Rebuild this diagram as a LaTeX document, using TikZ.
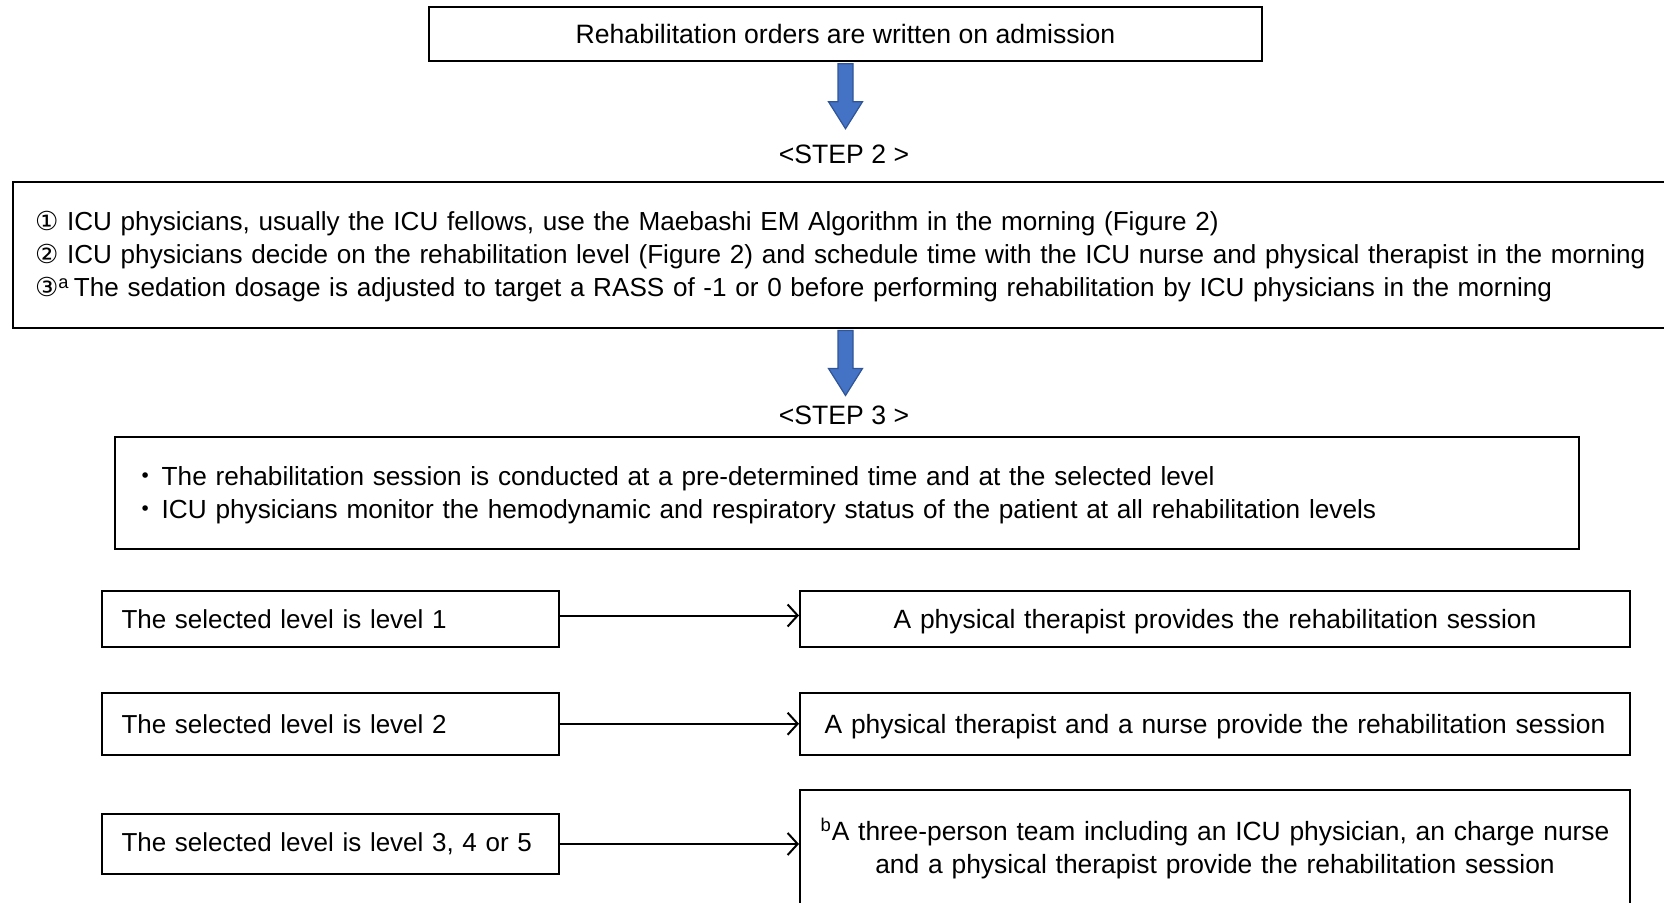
\documentclass[tikz,border=0pt]{standalone}
\usepackage{fontspec}
\setmainfont{Liberation Sans}
\newfontfamily\dejavu{DejaVu Sans}
\newfontfamily\cjk{Noto Sans CJK JP}
\usetikzlibrary{arrows.meta,calc}
\definecolor{arrowfill}{HTML}{4472C4}
\definecolor{arrowedge}{HTML}{2F5597}
\tikzset{
  txt/.style={font=\fontsize{13.3}{16.5}\selectfont},
  box/.style={draw=black, line width=1pt, rectangle, txt},
  lvl/.style={box, font=\fontsize{13}{16.5}\selectfont, minimum width=228.5pt, text width=209pt, inner xsep=9.75pt, align=left},
  res/.style={box, font=\fontsize{13.2}{16.5}\selectfont, minimum width=415pt, text width=400pt, inner xsep=7.5pt, align=center},
  link/.style={line width=1pt, -{Straight Barb[length=5pt,width=11pt,line width=1pt]}},
  bigarrow/.pic={
    \path[fill=arrowfill, draw=arrowedge, line width=0.6pt]
      (-7.5,0) -- (-7.5,38) -- (-17,38) -- (0,65) -- (17,38) -- (7.5,38) -- (7.5,0) -- cycle;
  }
}
\begin{document}
\begin{tikzpicture}[x=0.5pt,y=-0.5pt]
\clip (0,0) rectangle (1664,903);
\useasboundingbox (0,0) rectangle (1664,903);

\node[box, minimum width=416.5pt, minimum height=26.75pt] (top) at (845.5,34) {Rehabilitation orders are written on admission};

\node[txt] (step2) at (844,154) {<STEP 2 >};

\node[box, font=\fontsize{13.05}{16.5}\selectfont, anchor=north west, minimum width=844pt, minimum height=73pt, text width=822pt, inner xsep=11pt, align=left] (s2) at (12,181)
{\strut{\dejavu ①} ICU physicians, usually the ICU fellows, use the Maebashi EM Algorithm in the morning (Figure 2)\\
{\dejavu ②} ICU physicians decide on the rehabilitation level (Figure 2) and schedule time with the ICU nurse and physical therapist in the morning\\
{\dejavu ③}\textsuperscript{a}\,The sedation dosage is adjusted to target a RASS of -1 or 0 before performing rehabilitation by ICU physicians in the morning};

\node[txt] (step3) at (844,415) {<STEP 3 >};

\node[box, font=\fontsize{13.1}{16.5}\selectfont, anchor=north west, minimum width=732.25pt, minimum height=56pt, text width=714.25pt, inner xsep=9pt, align=left] (s3) at (113.5,436)
{\strut{\cjk ・}\hspace{1.5pt}The rehabilitation session is conducted at a pre-determined time and at the selected level\\
{\cjk ・}\hspace{1.5pt}ICU physicians monitor the hemodynamic and respiratory status of the patient at all rehabilitation levels};

\node[lvl, minimum height=28pt] (l1) at (330.5,619) {The selected level is level 1};
\node[lvl, minimum height=30.75pt] (l2) at (330.5,723.75) {The selected level is level 2};
\node[lvl, minimum height=30pt] (l3) at (330.5,844) {\mbox{The selected level is level 3, 4 or 5}};

\node[res, minimum height=28pt, text depth=0pt] (r1) at (1215,619) {A physical therapist provides the rehabilitation session};
\node[res, minimum height=30.75pt, text depth=0pt] (r2) at (1215,723.75) {A physical therapist and a nurse provide the rehabilitation session};
\node[res, minimum height=59pt] (r3) at (1215,848.5) {\textsuperscript{b}A three-person team including an ICU physician, an charge nurse\\ and a physical therapist provide the rehabilitation session};

\pic at ($(top.south)+(0,2)$) {bigarrow};
\pic at ($(s2.south -| top.south)+(0,1.5)$) {bigarrow};

\draw[link] ($(l1.east)+(0,-3.5)$) -- ($(r1.west)+(0,-3.5)$);
\draw[link] (l2.east) -- (r2.west);
\draw[link] (l3.east) -- (l3.east -| r3.west);
\end{tikzpicture}
\end{document}
